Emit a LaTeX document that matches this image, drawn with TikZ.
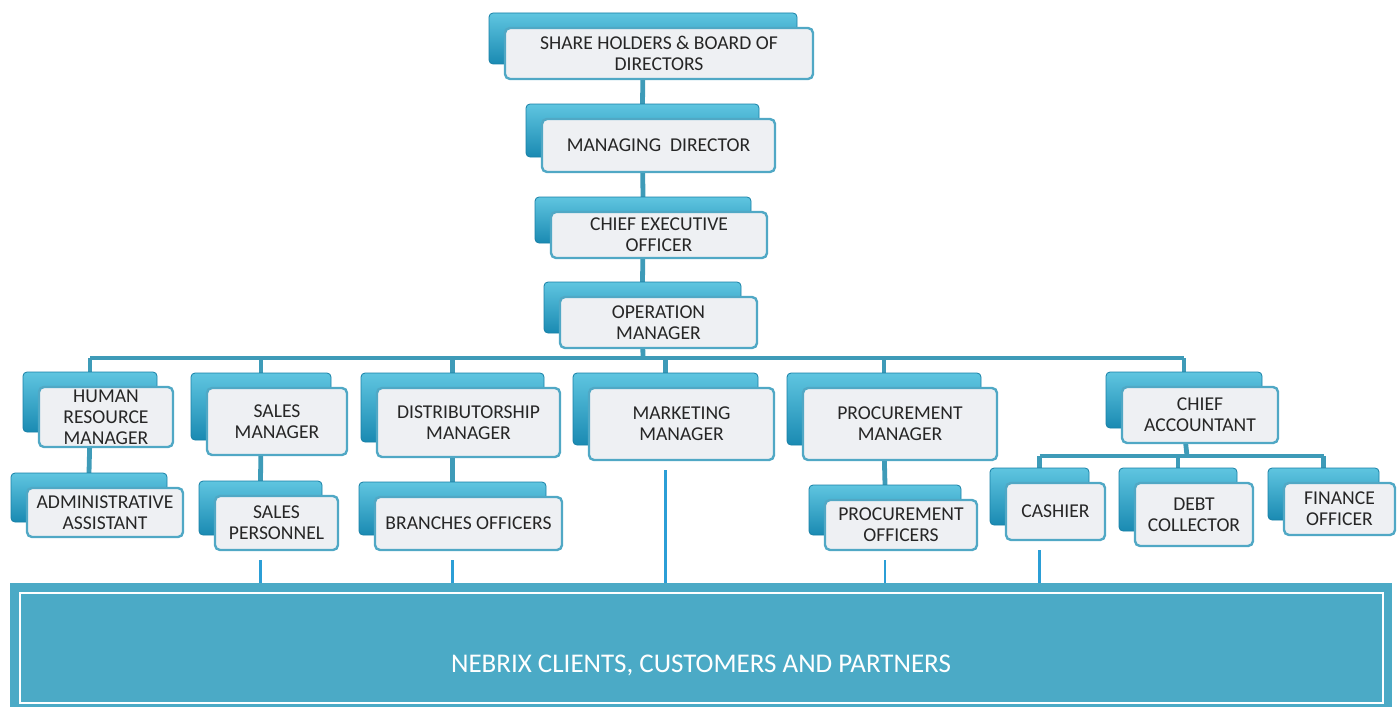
\documentclass[tikz,border=0pt]{standalone}
\usepackage{fontspec}
\setmainfont{Carlito}
\usetikzlibrary{backgrounds}
\usepackage{xcolor}
\definecolor{backtop}{RGB}{95,197,224}
\definecolor{backbot}{RGB}{26,138,178}
\definecolor{backline}{RGB}{24,128,166}
\definecolor{frontfill}{RGB}{238,240,243}
\definecolor{frontline}{RGB}{80,168,197}
\definecolor{connblue}{RGB}{62,155,184}
\definecolor{linkblue}{RGB}{43,158,214}
\definecolor{clientblue}{RGB}{75,170,198}
\definecolor{textgray}{RGB}{38,38,38}

% one chart box: name, front box corners (x1,y1) (x2,y2), text
\newcommand{\orgbox}[6]{%
  \node[backbox, minimum width={(#4-#2)*0.5pt}, minimum height={(#5-#3)*0.5pt}] (#1-b) at ({(#2+#4)/2-16},{(#3+#5)/2-15}) {};
  \node[frontbox, minimum width={(#4-#2)*0.5pt}, minimum height={(#5-#3)*0.5pt}] (#1) at ({(#2+#4)/2},{(#3+#5)/2}) {#6};
}

\begin{document}
\begin{tikzpicture}[
                x=0.5pt, y=-0.5pt,
                backbox/.style={rectangle, rounded corners=2pt, inner sep=0pt, outer sep=0pt, top color=backtop, bottom color=backbot, draw=backline, line width=0.4pt},
                frontbox/.style={rectangle, rounded corners=2.5pt, inner sep=0pt, outer sep=0pt, fill=frontfill, draw=frontline, line width=1.2pt, align=center, text=textgray, font=\fontsize{9.8}{10.4}\selectfont},
                conn/.style={draw=connblue, line width=2.4pt},
                link/.style={draw=linkblue, line width=1.1pt},
                clientbox/.style={rectangle, inner sep=0pt, outer sep=0pt, fill=clientblue}
                ]
                \useasboundingbox (0,0) rectangle (1400,706);
                \clip (0,0) rectangle (1400,706);

                %% Boxes
                \orgbox{sh}{505}{28}{813}{79}{SHARE HOLDERS \& BOARD OF\\DIRECTORS}
                \orgbox{md}{542}{119}{775}{172}{MANAGING\ \ DIRECTOR}
                \orgbox{ceo}{551}{212}{767}{258}{CHIEF EXECUTIVE\\OFFICER}
                \orgbox{om}{560}{297}{757}{348}{OPERATION\\MANAGER}

                \orgbox{hr}{39}{387}{173}{447}{HUMAN\\RESOURCE\\MANAGER}
                \orgbox{sm}{207}{388}{347}{455}{SALES\\MANAGER}
                \orgbox{dm}{377}{388}{560}{457}{DISTRIBUTORSHIP\\MANAGER}
                \orgbox{mm}{589}{388}{774}{460}{MARKETING\\MANAGER}
                \orgbox{pm}{803}{388}{997}{460}{PROCUREMENT\\MANAGER}
                \orgbox{ca}{1122}{387}{1278}{443}{CHIEF\\ACCOUNTANT}

                \orgbox{aa}{27}{488}{183}{537}{ADMINISTRATIVE\\ASSISTANT}
                \orgbox{sp}{215}{496}{338}{550}{SALES\\PERSONNEL}
                \orgbox{bo}{375}{497}{562}{550}{BRANCHES OFFICERS}
                \orgbox{po}{825}{500}{977}{550}{PROCUREMENT\\OFFICERS}
                \orgbox{cs}{1006}{483}{1105}{540}{CASHIER}
                \orgbox{dc}{1135}{483}{1253}{546}{DEBT\\COLLECTOR}
                \orgbox{fo}{1284}{483}{1395}{535}{FINANCE\\OFFICER}

                %% Clients
                \node[clientbox, minimum width=691pt, minimum height=64.5pt] (cl) at (701,647.5) {};
                \draw[white, line width=1pt] (20,593) rectangle (1383,703);
                \node[text=white, font=\fontsize{13.5}{15}\selectfont] (clt) at (701,665) {NEBRIX CLIENTS, CUSTOMERS AND PARTNERS};

                \coordinate (bus) at (643,358);
                \coordinate (cabus) at (1187,456);

                %% Connectors
                \begin{scope}[on background layer]
                \draw[conn] (sh-b.south) -- (md-b.north);
                \draw[conn] (md-b.south) -- (ceo-b.north);
                \draw[conn] (ceo-b.south) -- (om-b.north);
                \draw[conn] (om-b.south) -- (bus);
                \draw[conn] (hr-b.north |- bus) -- (ca-b.north |- bus);
                \foreach \n in {hr,sm,dm,mm,pm,ca}
                    \draw[conn] (\n-b.north |- bus) -- (\n-b.north);
                \draw[conn] (hr-b.south) -- (aa-b.north);
                \draw[conn] (sm-b.south) -- (sp-b.north);
                \draw[conn] (dm-b.south) -- (bo-b.north);
                \draw[conn] (pm-b.south) -- (po-b.north);
                \draw[conn] (ca-b.south) -- (cabus);
                \draw[conn] (cs-b.north |- cabus) -- (fo-b.north |- cabus);
                \foreach \n in {cs,dc,fo}
                    \draw[conn] (\n-b.north |- cabus) -- (\n-b.north);

                \foreach \n in {sp,bo,mm,po,cs}
                    \draw[link] ([yshift=-5pt]\n-b.south |- \n.south) -- (\n-b.south |- cl.north);
                \end{scope}
\end{tikzpicture}
\end{document}
